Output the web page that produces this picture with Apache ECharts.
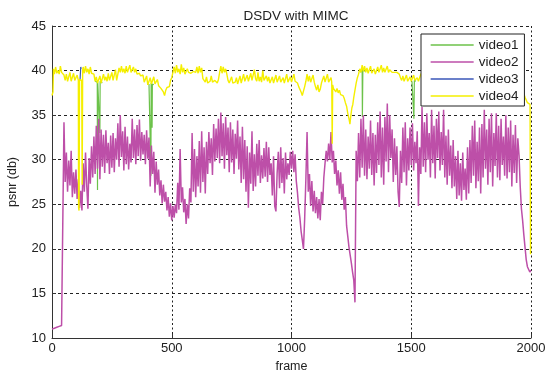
<!DOCTYPE html>
<html>
<head>
<meta charset="utf-8">
<script src="https://cdn.jsdelivr.net/npm/echarts@6/dist/echarts.min.js"></script>
<style>
html,body{margin:0;padding:0;background:#fff;}
#chart{width:546px;height:375px;}
</style>
</head>
<body>
<div id="chart"></div>
<script>
// ---- data ----
const chartTitle = 'DSDV with MIMC';
const seriesNames = ['video1', 'video2', 'video3', 'video4'];
const xTicks = [0, 500, 1000, 1500, 2000];
const yTicks = [10, 15, 20, 25, 30, 35, 40, 45];

// video2: one value every 5 frames (frame 0 .. 2000)
const video2Step = 5;
const video2 = [
  11.0, 11.0, 11.1, 11.1, 11.2, 11.2, 11.3, 11.3, 11.4, 11.5,
  34.2, 27.5, 30.8, 26.4, 29.9, 27.1, 31.0, 25.8, 28.6, 26.2,
  28.9, 25.6, 27.8, 24.6, 26.5, 24.3, 29.6, 26.4, 30.8, 27.1,
  24.5, 30.2, 27.3, 31.5, 28.0, 32.6, 28.4, 33.8, 29.0, 34.6,
  27.8, 33.4, 29.2, 32.8, 28.5, 33.3, 29.6, 31.9, 28.4, 32.7,
  29.1, 33.0, 28.6, 32.4, 30.0, 34.1, 29.2, 35.0, 30.3, 33.2,
  28.8, 33.7, 29.5, 32.6, 28.9, 31.8, 29.7, 34.6, 30.2, 33.4,
  29.5, 33.9, 30.4, 34.5, 29.9, 33.1, 30.6, 32.8, 29.5, 33.3,
  30.1, 32.5, 27.0, 31.6, 28.4, 30.9, 26.3, 29.8, 27.2, 28.9,
  26.0, 27.7, 25.1, 27.2, 25.3, 26.4, 24.3, 25.8, 23.6, 25.1,
  23.2, 24.8, 23.5, 25.0, 24.0, 27.4, 24.4, 31.2, 25.2, 26.9,
  24.1, 25.6, 22.8, 25.0, 23.4, 26.8, 25.2, 33.0, 26.4, 31.2,
  25.8, 30.4, 27.0, 32.1, 26.3, 33.2, 27.5, 31.4, 26.2, 32.0,
  28.4, 33.1, 29.6, 32.4, 28.3, 34.0, 29.8, 33.5, 30.2, 34.6,
  29.6, 35.3, 30.4, 34.1, 29.0, 34.8, 30.5, 33.6, 28.6, 34.2,
  29.7, 33.4, 28.4, 32.9, 30.1, 34.4, 28.9, 32.6, 27.4, 33.7,
  27.8, 32.2, 26.4, 31.5, 24.6, 30.8, 27.3, 33.2, 26.5, 30.6,
  27.0, 31.8, 28.2, 32.2, 27.4, 30.5, 27.9, 31.3, 28.1, 32.0,
  27.5, 31.4, 28.3, 29.6, 26.0, 30.4, 24.8, 24.2, 28.5, 30.9,
  26.8, 31.4, 27.4, 30.2, 26.2, 30.8, 27.8, 29.6, 28.3, 30.9,
  29.0, 31.0, 28.6, 30.6, 27.6, 26.3, 24.6, 23.5, 22.0, 21.0,
  20.0, 23.4, 27.8, 33.1, 26.4, 28.4, 24.8, 27.6, 24.2, 26.5,
  24.0, 25.8, 23.4, 25.6, 23.2, 26.4, 25.0, 28.0, 29.6, 31.0,
  29.8, 31.8, 30.0, 33.1, 29.7, 31.0, 28.4, 29.9, 27.1, 28.8,
  26.2, 28.6, 25.5, 27.3, 24.4, 25.8, 22.6, 21.4, 20.2, 19.3,
  18.4, 17.4, 16.5, 14.0, 31.0, 27.6, 33.0, 28.0, 34.6, 29.1,
  35.0, 28.2, 33.4, 27.8, 32.6, 29.0, 34.4, 28.3, 33.0, 27.1,
  32.8, 28.5, 34.2, 29.4, 35.4, 28.0, 33.6, 27.2, 34.8, 29.8,
  36.3, 28.6, 35.0, 30.2, 33.4, 27.5, 32.4, 28.3, 31.5, 26.4,
  24.7, 31.0, 27.4, 33.6, 28.6, 34.2, 27.1, 32.4, 28.8, 33.6,
  29.4, 34.1, 28.8, 32.0, 29.6, 33.2, 24.8, 31.4, 28.4, 35.9,
  29.2, 34.2, 28.6, 35.2, 30.0, 33.0, 28.0, 35.6, 29.6, 33.8,
  27.9, 34.6, 30.2, 35.4, 28.8, 33.1, 29.4, 35.6, 28.0, 32.7,
  27.2, 33.4, 28.2, 31.6, 26.8, 32.2, 27.0, 30.4, 25.6, 31.0,
  26.0, 29.6, 25.4, 30.8, 26.6, 29.0, 25.5, 31.4, 26.2, 32.2,
  27.4, 33.8, 28.2, 34.4, 26.8, 32.0, 27.6, 33.6, 26.2, 34.0,
  28.0, 35.6, 29.0, 33.4, 27.2, 34.6, 28.6, 35.2, 27.0, 33.0,
  29.3, 35.2, 28.0, 33.8, 27.7, 34.6, 29.4, 32.6, 28.2, 35.0,
  27.9, 33.6, 28.6, 34.4, 27.0, 32.8, 28.5, 33.9, 27.4, 32.4,
  30.5, 27.0, 24.5, 23.2, 21.6, 20.2, 18.8, 18.0, 17.8, 17.4,
  17.6
];

// video4: [frame, psnr]
const video4 = [
  [0,37.2],[4,37.6],[6,40.2],[10,39.6],[15,40.4],[20,39.7],[25,40.0],[30,39.6],[35,40.5],[40,39.8],
  [45,39.8],[50,39.5],[55,38.9],[60,39.6],[65,38.8],[70,38.9],[75,39.8],[80,38.8],[85,38.8],[90,39.7],
  [95,38.9],[100,38.8],[105,39.5],[110,38.9],[111,24.6],[113,24.3],[115,39.0],[118,39.2],[124,38.9],[126,27.2],
  [128,40.0],[130,40.4],[135,39.7],[140,40.5],[145,39.8],[150,40.2],[155,39.6],[160,40.4],[165,39.7],[170,39.9],
  [175,39.6],[180,38.8],[185,39.3],[190,38.6],[195,38.8],[200,39.4],[205,38.6],[210,38.7],[215,39.6],[220,38.9],
  [225,39.3],[230,38.8],[235,39.7],[240,38.9],[245,38.8],[250,39.8],[255,38.9],[260,39.0],[265,40.1],[270,38.9],
  [275,39.6],[280,40.3],[285,39.8],[290,40.5],[295,39.8],[300,40.2],[305,39.7],[310,40.5],[315,39.8],[320,40.0],
  [325,40.6],[330,39.8],[335,39.9],[340,40.4],[345,39.8],[350,40.2],[355,39.6],[360,39.5],[365,39.7],[370,39.4],
  [375,39.6],[380,39.5],[385,38.7],[390,38.5],[395,39.4],[400,38.4],[405,38.6],[410,39.2],[415,38.5],[420,38.4],
  [425,39.3],[430,38.5],[435,38.4],[440,39.0],[445,38.3],[450,38.3],[455,38.0],[460,38.1],[465,37.6],[470,37.2],
  [475,37.8],[480,38.1],[485,38.0],[490,38.2],[495,38.9],[500,39.2],[505,39.0],[510,40.4],[515,39.7],[520,40.6],
  [525,39.8],[530,40.2],[535,39.6],[540,40.7],[545,39.8],[550,40.3],[555,39.6],[560,39.9],[565,40.2],[570,39.8],
  [580,39.7],[590,39.9],[600,39.8],[605,40.4],[610,39.7],[615,40.5],[620,39.8],[625,40.3],[630,39.1],[640,38.7],
  [645,39.3],[650,38.6],[660,38.8],[665,39.4],[670,38.7],[680,38.9],[690,38.6],[695,39.0],[700,39.8],[705,40.5],
  [710,39.7],[715,40.4],[720,39.8],[725,40.2],[730,39.6],[735,38.9],[740,38.6],[745,38.7],[750,39.3],[755,38.6],
  [760,38.5],[765,38.7],[770,39.2],[775,38.5],[780,38.6],[785,39.4],[790,38.6],[795,38.7],[800,39.6],[805,38.8],
  [810,38.7],[815,39.5],[820,38.8],[825,38.6],[830,39.7],[835,38.9],[840,38.7],[845,40.1],[850,39.1],[855,38.8],
  [860,39.8],[865,38.8],[870,39.3],[875,38.7],[880,40.0],[885,38.9],[890,39.0],[895,39.4],[900,38.8],[905,39.3],
  [910,38.6],[915,38.8],[920,39.3],[925,38.6],[930,38.7],[935,39.5],[940,38.7],[945,38.6],[950,39.4],[955,38.7],
  [960,38.6],[965,39.2],[970,38.6],[975,38.7],[980,39.6],[985,38.7],[990,38.6],[995,39.3],[1000,38.7],[1005,38.8],
  [1010,39.6],[1015,38.8],[1020,38.7],[1025,38.6],[1030,38.2],[1035,38.3],[1040,37.6],[1045,37.2],[1050,37.0],[1055,38.2],
  [1060,38.8],[1065,39.6],[1070,38.8],[1075,39.4],[1080,38.7],[1085,38.8],[1090,39.5],[1095,38.7],[1100,38.2],[1105,37.8],
  [1110,38.4],[1115,37.6],[1120,37.9],[1125,38.6],[1130,38.7],[1135,39.4],[1140,38.7],[1145,38.8],[1150,39.6],[1155,38.7],
  [1160,38.8],[1165,39.2],[1168,38.7],[1170,31.8],[1172,38.4],[1175,38.0],[1180,38.1],[1185,37.6],[1190,38.0],[1195,37.5],
  [1200,37.8],[1205,37.3],[1210,37.4],[1215,37.2],[1220,36.9],[1225,36.4],[1230,36.0],[1235,35.2],[1240,34.6],[1244,34.0],
  [1248,35.0],[1252,35.8],[1256,36.2],[1260,37.0],[1265,37.8],[1270,38.6],[1275,39.2],[1280,39.6],[1285,40.2],[1290,39.8],
  [1295,40.6],[1300,39.9],[1305,40.5],[1310,39.8],[1315,40.3],[1320,39.7],[1325,39.8],[1330,40.5],[1335,39.7],[1340,39.8],
  [1345,40.2],[1350,39.6],[1355,39.7],[1360,40.4],[1365,39.8],[1370,39.9],[1375,40.6],[1380,39.8],[1385,40.3],[1390,39.8],
  [1395,40.0],[1400,40.5],[1405,39.8],[1410,40.1],[1415,39.9],[1420,39.8],[1425,40.0],[1430,39.8],[1435,39.9],[1440,39.8],
  [1445,40.0],[1450,39.6],[1455,39.2],[1460,38.9],[1465,39.4],[1470,38.8],[1475,38.9],[1480,39.5],[1485,38.8],[1490,38.9],
  [1495,39.3],[1500,38.8],[1505,38.8],[1510,39.5],[1515,38.9],[1520,38.8],[1525,39.2],[1530,38.8],[1540,39.6],[1560,40.2],
  [1580,39.5],[1600,40.0],[1620,39.4],[1640,39.9],[1660,39.2],[1680,39.8],[1700,39.3],[1720,39.6],[1740,39.1],[1760,39.7],
  [1780,39.2],[1800,40.0],[1820,39.4],[1840,39.9],[1860,39.3],[1880,39.8],[1900,39.2],[1920,39.6],[1940,38.8],[1960,38.2],
  [1975,37.0],[1985,36.4],[1996,36.2],[1998,19.4]
];

// video1: only the parts that show out from under video4 (null = hidden gap)
const video1 = [
  [180,38.8],[189,38.7],[190,26.6],[191,38.7],[196,38.6],[199,38.7],[200,33.0],[201,38.8],[210,38.6],[211,null],
  [405,38.5],[412,38.5],[413,28.2],[414,38.6],[417,38.5],[418,33.6],[419,38.5],[425,38.4],[426,null],
  [1288,39.8],[1295,40.1],[1296,34.8],[1298,40.2],[1305,39.9],[1306,null],
  [1503,38.8],[1510,38.9],[1511,34.6],[1513,38.9],[1520,38.8]
];

// video3: only the part that shows out from under video4
const video3 = [[117,38.9],[119,38.8],[120,40.4],[122,40.2]];

// ---- chart ----
const FONT = '"Liberation Sans", Arial, sans-serif';
const toData = arr => arr.map(p => p[1] === null ? [p[0], '-'] : p);
const video2Data = video2.map((v, i) => [i * video2Step, v]);

const chart = echarts.init(document.getElementById('chart'), null, {renderer: 'canvas'});
const lineBase = {type: 'line', showSymbol: false, symbol: 'none', animation: false, connectNulls: false};

chart.setOption({
  animation: false,
  backgroundColor: '#ffffff',
  title: {
    text: chartTitle, left: 291, top: 4, textAlign: 'center',
    textStyle: {fontFamily: FONT, fontSize: 13.5, fontWeight: 'normal', color: '#222'}
  },
  legend: {
    show: true,
    data: seriesNames,
    orient: 'vertical',
    left: 421, top: 34,
    padding: [4, 6, 3, 9],
    itemWidth: 43, itemHeight: 14, itemGap: 3,
    backgroundColor: '#ffffff',
    borderColor: '#222', borderWidth: 1, borderRadius: 0,
    textStyle: {fontFamily: FONT, fontSize: 13.5, color: '#222'},
    itemStyle: {opacity: 0},
    lineStyle: {width: 1.3}
  },
  grid: {left: 52, right: 15, top: 26, bottom: 37, containLabel: false, outerBoundsMode: 'none'},
  xAxis: {
    type: 'value', min: 0, max: 2000, interval: 500,
    name: 'frame', nameLocation: 'middle', nameGap: 21,
    nameTextStyle: {fontFamily: FONT, fontSize: 12.5, color: '#222'},
    axisLine: {show: true, lineStyle: {color: '#333', width: 1}},
    axisTick: {show: true, inside: true, length: 4, lineStyle: {color: '#333'}},
    axisLabel: {fontFamily: FONT, fontSize: 13, color: '#222', margin: 4,
      formatter: v => xTicks.indexOf(v) >= 0 ? String(v) : ''},
    splitLine: {show: true, lineStyle: {color: '#222', type: [2, 2.5], width: 1}}
  },
  yAxis: {
    type: 'value', min: 10, max: 45, interval: 5,
    name: 'psnr (db)', nameLocation: 'middle', nameGap: 33, nameRotate: 90,
    nameTextStyle: {fontFamily: FONT, fontSize: 12.5, color: '#222'},
    axisLine: {show: true, lineStyle: {color: '#333', width: 1}},
    axisTick: {show: true, inside: true, length: 4, lineStyle: {color: '#333'}},
    axisLabel: {fontFamily: FONT, fontSize: 13, color: '#222', margin: 6,
      formatter: v => yTicks.indexOf(v) >= 0 ? String(v) : ''},
    splitLine: {show: true, lineStyle: {color: '#222', type: [3, 3], width: 1}}
  },
  series: [
    Object.assign({}, lineBase, {name: seriesNames[0], data: toData(video1), itemStyle: {color: '#6cc24a'}, lineStyle: {color: '#6cc24a', width: 1.2}}),
    Object.assign({}, lineBase, {name: seriesNames[1], data: video2Data, itemStyle: {color: '#bd4fa8'}, lineStyle: {color: '#bd4fa8', width: 1.5}}),
    Object.assign({}, lineBase, {name: seriesNames[2], data: toData(video3), itemStyle: {color: '#3a56b8'}, lineStyle: {color: '#3a56b8', width: 1.2}}),
    Object.assign({}, lineBase, {name: seriesNames[3], data: toData(video4), itemStyle: {color: '#f5ef00'}, lineStyle: {color: '#f5ef00', width: 1.4}})
  ]
});
</script>
</body>
</html>
